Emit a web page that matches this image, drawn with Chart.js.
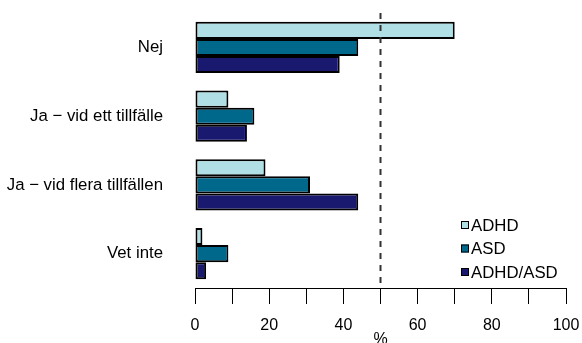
<!DOCTYPE html>
<html>
<head>
<meta charset="utf-8">
<script src="https://cdn.jsdelivr.net/npm/chart.js@4"></script>
<style>
  html, body { margin: 0; padding: 0; background: #fff; }
</style>
</head>
<body>
<canvas id="chart" width="582" height="343"></canvas>
<script>
const categories = ["Nej", "Ja \u2212 vid ett tillfälle", "Ja \u2212 vid flera tillfällen", "Vet inte"];
const seriesNames = ["ADHD", "ASD", "ADHD/ASD"];
const adhd = [70, 9, 19, 2];
const asd = [44, 16, 31, 9];
const adhdAsd = [39, 14, 44, 3];
const xTickLabels = [0, 20, 40, 60, 80, 100];
const refValue = 50;

const colors = ["#B0E0E6", "#00688B", "#191970"];
const fontFamily = "'Liberation Sans', Arial, sans-serif";

Chart.defaults.font.family = fontFamily;
Chart.defaults.font.size = 16;
Chart.defaults.color = "#000";

// dashed reference line + R-style legend in the lower right
const extras = {
    id: "extras",
    afterDatasetsDraw(chart) {
        const { ctx, chartArea, scales } = chart;
        const x = scales.x.getPixelForValue(refValue);
        ctx.save();
        ctx.strokeStyle = "#333";
        ctx.lineWidth = 2;
        ctx.setLineDash([6, 6]);
        ctx.beginPath();
        ctx.moveTo(x, chartArea.top);
        ctx.lineTo(x, chartArea.bottom);
        ctx.stroke();
        ctx.setLineDash([]);

        ctx.font = "16.8px " + fontFamily;
        ctx.textBaseline = "middle";
        ctx.textAlign = "left";
        chart.data.datasets.forEach((ds, i) => {
            const y = 225 + i * 23.5;
            ctx.fillStyle = ds.backgroundColor;
            ctx.fillRect(461, y - 4, 8, 8);
            ctx.lineWidth = 1;
            ctx.strokeStyle = "#000";
            ctx.strokeRect(461.5, y - 3.5, 7, 7);
            ctx.fillStyle = "#000";
            ctx.fillText(ds.label, 471, y + 1);
        });
        ctx.restore();
    }
};

const data = {
    labels: categories,
    datasets: [adhd, asd, adhdAsd].map((vals, i) => ({
        label: seriesNames[i],
        data: vals,
        backgroundColor: colors[i],
        borderColor: "#000",
        borderWidth: 2,
        borderSkipped: false,
        barPercentage: 1,
        categoryPercentage: 0.745,
    })),
};

const options = {
    indexAxis: "y",
    responsive: false,
    animation: false,
    layout: { padding: { top: 13, right: 16, left: 0, bottom: 0 } },
    plugins: {
        legend: { display: false },
        tooltip: { enabled: false },
    },
    scales: {
        x: {
            min: 0,
            max: 100,
            afterFit(scale) {
                scale.height = 55;
                scale.paddingLeft = 0;
                scale.paddingRight = 0;
            },
            grid: { drawOnChartArea: false, drawTicks: true, tickLength: 16, color: "#000" },
            border: { display: true, color: "#000", width: 1 },
            ticks: {
                stepSize: 10,
                autoSkip: false,
                maxRotation: 0,
                padding: 12,
                font: { size: 16 },
                callback: (v) => (xTickLabels.includes(v) ? v : ""),
            },
            title: { display: true, text: "%", font: { size: 16 }, padding: { top: 0, bottom: -6 } },
        },
        y: {
            afterFit(scale) { scale.width = 195; },
            grid: { display: true, drawOnChartArea: false, drawTicks: true, tickLength: 29, color: "rgba(0,0,0,0)" },
            border: { display: false },
            ticks: { padding: 3, font: { size: 16.8 } },
        },
    },
};

new Chart(document.getElementById("chart").getContext("2d"), {
    type: "bar",
    data: data,
    options: options,
    plugins: [extras],
});
</script>
</body>
</html>
